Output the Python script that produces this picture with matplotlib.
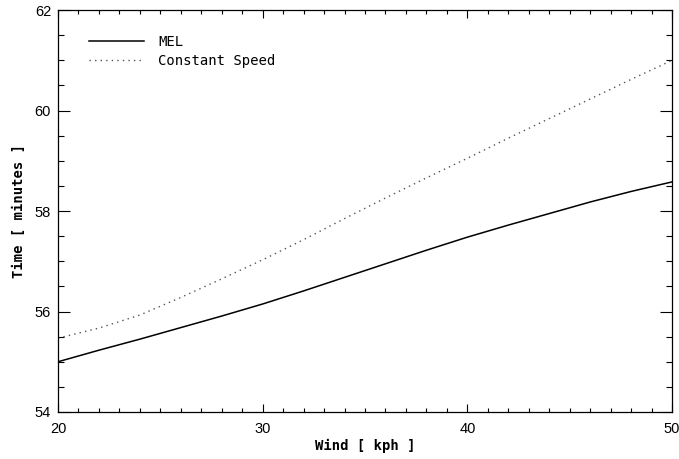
import matplotlib
matplotlib.use("Agg")
import matplotlib.pyplot as plt
from matplotlib.ticker import MultipleLocator

wind = [20, 22, 24, 26, 28, 30, 32, 34, 36, 38, 40, 42, 44, 46, 48, 50]
mel = [55.00, 55.23, 55.45, 55.68, 55.91, 56.15, 56.41, 56.68, 56.95, 57.22,
       57.48, 57.72, 57.95, 58.18, 58.39, 58.58]
const_speed = [55.47, 55.67, 55.93, 56.28, 56.65, 57.03, 57.43, 57.85, 58.26, 58.66,
               59.05, 59.45, 59.84, 60.23, 60.62, 61.00]

fig = plt.figure(figsize=(6.79, 4.59), dpi=100)
ax = fig.add_axes([0.0854, 0.1024, 0.9043, 0.8756])

ax.plot(wind, mel, color="black", lw=1.1, label="MEL")
ax.plot(wind, const_speed, color="#555555", lw=1.0, linestyle=(0, (1, 3)),
        label="Constant Speed")

ax.set_xlim(20, 50)
ax.set_ylim(54, 62)
ax.xaxis.set_major_locator(MultipleLocator(10))
ax.xaxis.set_minor_locator(MultipleLocator(1))
ax.yaxis.set_major_locator(MultipleLocator(2))
ax.yaxis.set_minor_locator(MultipleLocator(0.5))

ax.tick_params(axis="x", which="major", direction="in", length=6, width=0.8,
               top=True, labelsize=10.5, pad=7)
ax.tick_params(axis="x", which="minor", direction="in", length=3, width=0.8, top=True)
ax.tick_params(axis="y", which="major", direction="in", length=8.5, width=0.8,
               right=True, labelsize=10.5, pad=5)
ax.tick_params(axis="y", which="minor", direction="in", length=4.3, width=0.8, right=True)

for lbl in ax.get_xticklabels() + ax.get_yticklabels():
    lbl.set_family("Liberation Sans")

for s in ax.spines.values():
    s.set_linewidth(0.9)

ax.set_xlabel("Wind [ kph ]", family="DejaVu Sans Mono", fontweight="bold",
              fontsize=10, labelpad=2)
ax.set_ylabel("Time [ minutes ]", family="DejaVu Sans Mono", fontweight="bold",
              fontsize=10, labelpad=6)

leg = ax.legend(loc="upper left", frameon=False, prop={"family": "DejaVu Sans Mono", "size": 10},
                handlelength=4.0, handletextpad=1.0, labelspacing=0.4,
                bbox_to_anchor=(0.03, 0.97))

fig.savefig("out.png", dpi=100)
